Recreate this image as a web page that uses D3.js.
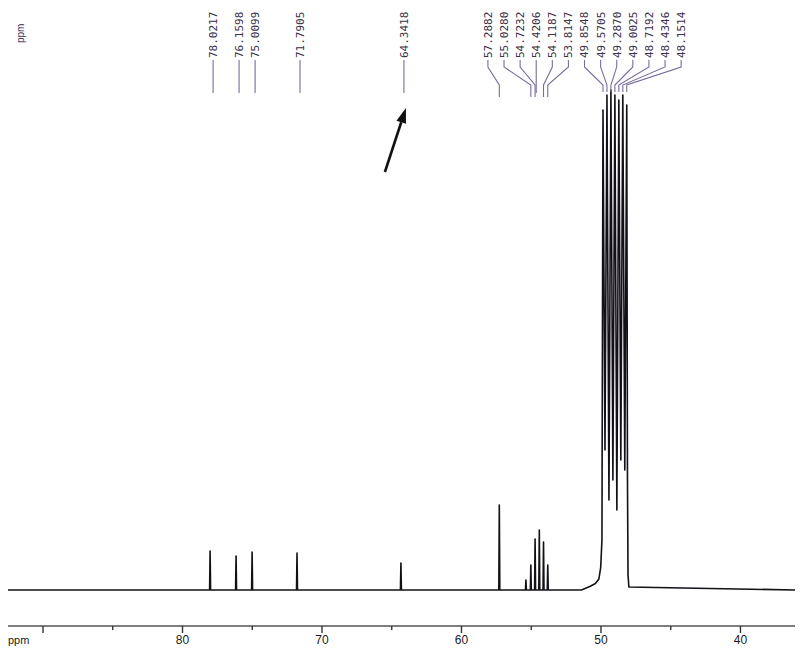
<!DOCTYPE html>
<html><head><meta charset="utf-8">
<script src="https://cdn.jsdelivr.net/npm/d3@7"></script>
<style>html,body{margin:0;padding:0;background:#fff;}svg{display:block;}</style>
</head><body>
<svg id="c" width="800" height="661"></svg>
<script>
// ---- data ----
const labelPpm = [78.0217, 76.1598, 75.0099, 71.7905, 64.3418, 57.2882, 55.0280, 54.7232, 54.4206, 54.1187, 53.8147, 49.8548, 49.5705, 49.2870, 49.0025, 48.7192, 48.4346, 48.1514];
const labelText = ["78.0217","76.1598","75.0099","71.7905","64.3418","57.2882","55.0280","54.7232","54.4206","54.1187","53.8147","49.8548","49.5705","49.2870","49.0025","48.7192","48.4346","48.1514"];
const peakHeight = [7.8, 6.8, 7.6, 7.4, 5.4, 17.0, 5.0, 10.2, 12.0, 9.6, 5.0, 96, 99, 100, 99, 98, 99, 97];
const extraPeakPpm = [55.38];
const extraPeakHeight = [2.0];
const bigValley = [28, 18, 22, 16, 26, 24];
const humpPpm = [51.4, 50.8, 50.4, 50.15, 50.02, 49.93];
const humpInt = [0, 0.7, 1.3, 2.2, 4.5, 10];
const tailPpm = [48.10, 48.06, 48.0];
const tailInt = [22, 3, 0.6];
const axisTicks = [90, 85, 80, 75, 70, 65, 60, 55, 50, 45, 40];
const axisLabels = ["80", "70", "60", "50", "40"];

// ---- scales ----
const svg = d3.select("#c");
svg.append("rect").attr("width",800).attr("height",661).attr("fill","#fff");
const x = d3.scaleLinear().domain([92.51, 36.09]).range([8, 795]);
const y = d3.scaleLinear().domain([0, 100]).range([590, 90]);

// ---- spectrum path ----
const pts = [[92.51, 0]];
const w = 0.035;
const smalls = d3.range(0, 11).map(i => [labelPpm[i], peakHeight[i]])
  .concat(extraPeakPpm.map((p,i)=>[p, extraPeakHeight[i]]))
  .sort((a,b)=>b[0]-a[0]);
smalls.forEach(([p,h]) => { pts.push([p+w,0],[p,h],[p-w,0]); });
humpPpm.forEach((p,i)=>pts.push([p, humpInt[i]]));
const bigIdx = d3.range(11, 18);
bigIdx.forEach((i,k) => {
  pts.push([labelPpm[i], peakHeight[i]]);
  if (k < bigIdx.length-1) pts.push([(labelPpm[i]+labelPpm[i+1])/2, bigValley[k]]);
});
tailPpm.forEach((p,i)=>pts.push([p, tailInt[i]]));
pts.push([36.09, 0]);
pts.sort((a,b)=>b[0]-a[0]);

svg.append("path")
  .attr("d", d3.line().x(d=>x(d[0])).y(d=>y(d[1]))(pts))
  .attr("fill","none").attr("stroke","#141018").attr("stroke-width",1.6)
  .attr("stroke-linejoin","round");

// ---- axis ----
const axisY = 626;
const gAxis = svg.append("g").attr("transform",`translate(0,${axisY})`);
gAxis.append("line").attr("x1",8).attr("x2",795).attr("stroke","#555").attr("stroke-width",1.6);
gAxis.selectAll("line.t").data(axisTicks).join("line").attr("class","t")
  .attr("x1",d=>x(d)).attr("x2",d=>x(d)).attr("y1",0)
  .attr("y2",d=>d%10===0?7:4).attr("stroke","#333").attr("stroke-width",1.4);
gAxis.selectAll("text").data(axisLabels).join("text")
  .attr("x",d=>x(+d)).attr("y",18).attr("text-anchor","middle")
  .attr("font-family","Liberation Sans, Arial, sans-serif").attr("font-size",12)
  .attr("fill","#1a1a1a").text(d=>d);
gAxis.append("text").attr("x",8).attr("y",18).attr("font-family","Liberation Sans, Arial, sans-serif")
  .attr("font-size",11).attr("fill","#1a1a1a").text("ppm");

// top-left rotated ppm
svg.append("text").attr("transform","translate(20,43) rotate(-90)").attr("dy","0.35em")
  .attr("font-family","Liberation Sans, Arial, sans-serif").attr("font-size",10)
  .attr("fill","#3a2a50").text("ppm");

// ---- peak labels layout (merge overlapping clusters) ----
const px = labelPpm.map(p=>x(p));
const spacing = 16.1, minGap = 14;
let clusters = px.map((_,i)=>[i]);
function place(c){
  const m = d3.mean(c, i=>px[i]) + (c.length===1 ? 3 : 7.6);
  return c.map((i,k)=> m + (k-(c.length-1)/2)*spacing);
}
let merged = true;
while (merged) {
  merged = false;
  for (let j=0;j<clusters.length-1;j++){
    const a = place(clusters[j]), b = place(clusters[j+1]);
    if (b[0] - a[a.length-1] < minGap) {
      clusters.splice(j, 2, clusters[j].concat(clusters[j+1]));
      merged = true; break;
    }
  }
}
const lx = new Array(px.length);
clusters.forEach(c=>{ const p = place(c); c.forEach((i,k)=>lx[i]=p[k]); });

const textBottom = 58;
const gl = svg.append("g");
labelPpm.forEach((p,i)=>{
  const straight = Math.abs(lx[i]-px[i]) < 5;
  let d;
  if (straight) d = `M${lx[i]},${textBottom+2}V93`;
  else d = `M${lx[i]},${textBottom+2}V67L${px[i]},85V${i>=11?92:97}`;
  gl.append("path").attr("d",d).attr("fill","none").attr("stroke","#7a6c9c").attr("stroke-width",1.1);
  gl.append("text").attr("transform",`translate(${lx[i]},${textBottom}) rotate(-90)`)
    .attr("dy","0.36em").attr("font-family","DejaVu Sans Mono, monospace").attr("font-size",11)
    .attr("fill","#3a3048").text(labelText[i]);
});

// ---- arrow pointing to the 64.3418 label ----
const tipX = lx[4] + 2, tipY = 108;
const tail = [tipX - 21, tipY + 64];
const len = Math.hypot(21, 64), ux = 21/len, uy = -64/len;
const bx = tipX - 15*ux, by = tipY - 15*uy;
svg.append("line").attr("x1",tail[0]).attr("y1",tail[1]).attr("x2",bx).attr("y2",by)
  .attr("stroke","#111").attr("stroke-width",2.6);
svg.append("path").attr("d",`M${tipX},${tipY}L${bx+5*(-uy)},${by+5*ux}L${bx-5*(-uy)},${by-5*ux}Z`)
  .attr("fill","#111");
</script>
</body></html>
